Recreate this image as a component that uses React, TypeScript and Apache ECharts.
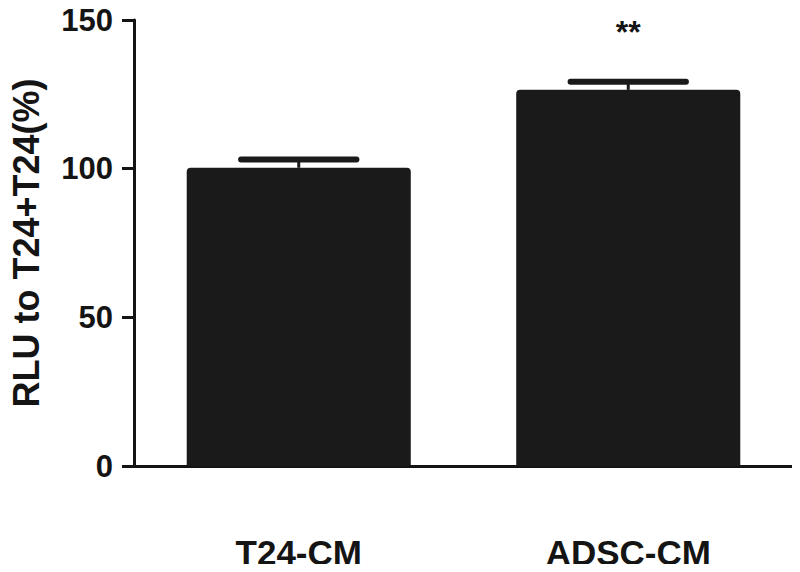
import React, { useEffect, useRef } from "react";
import * as echarts from "echarts";

const categories = ["T24-CM", "ADSC-CM"];
const means = [100.3, 126.5];
const errors = [2.8, 2.7];
const significance = ["", "**"];
const yTicks = { min: 0, max: 150, interval: 50 };
const yTitle = "RLU to T24+T24(%)";

export default function App() {
  const ref = useRef<HTMLDivElement>(null);
  useEffect(() => {
    if (!ref.current) return;
    const chart = echarts.init(ref.current, null, { renderer: "svg" });
    const font = "'Liberation Sans', Arial, sans-serif";
    const ink = "#141414";
    chart.setOption({
      animation: false,
      backgroundColor: "#ffffff",
      grid: { left: 124, right: 7, top: 20, bottom: 106, containLabel: false },
      xAxis: {
        type: "category",
        data: categories,
        boundaryGap: true,
        axisLine: { lineStyle: { color: ink, width: 3 } },
        axisTick: { alignWithLabel: true, length: 14, lineStyle: { color: ink, width: 3 } },
        axisLabel: {
          margin: 69,
          color: ink,
          fontFamily: font,
          fontWeight: "bold",
          fontSize: 35,
        },
        splitLine: { show: false },
      },
      yAxis: {
        type: "value",
        min: yTicks.min,
        max: yTicks.max,
        interval: yTicks.interval,
        name: yTitle,
        nameLocation: "middle",
        nameGap: 90,
        nameTextStyle: { color: ink, fontFamily: font, fontWeight: "bold", fontSize: 36 },
        axisLine: { show: true, lineStyle: { color: ink, width: 3 } },
        axisTick: { show: true, length: 12, lineStyle: { color: ink, width: 3 } },
        axisLabel: { margin: 21, color: ink, fontFamily: font, fontWeight: "bold", fontSize: 31 },
        splitLine: { show: false },
      },
      series: [
        {
          type: "bar",
          data: means,
          barWidth: "68%",
          itemStyle: { color: "#1a1a1a", borderRadius: [4, 4, 0, 0] },
          z: 2,
        },
        {
          type: "custom",
          data: means.map((m, i) => [i, m, errors[i]]),
          z: 3,
          renderItem: (params: any, api: any) => {
            const i = api.value(0);
            const m = api.value(1);
            const e = api.value(2);
            const top = api.coord([i, m + e]);
            const base = api.coord([i, m]);
            const half = api.size([1, 0])[0] * 0.175;
            const children: any[] = [
              {
                type: "line",
                shape: { x1: top[0], y1: top[1], x2: base[0], y2: base[1] },
                style: { stroke: "#1a1a1a", lineWidth: 3 },
              },
              {
                type: "line",
                shape: { x1: top[0] - half, y1: top[1], x2: top[0] + half, y2: top[1] },
                style: { stroke: "#1a1a1a", lineWidth: 6, lineCap: "round" },
              },
            ];
            const sig = significance[params.dataIndex];
            if (sig) {
              const p = api.coord([i, yTicks.max]);
              children.push({
                type: "text",
                x: p[0],
                y: p[1] - 4,
                style: {
                  text: sig,
                  fill: ink,
                  font: `bold 32px ${font}`,
                  align: "center",
                  verticalAlign: "top",
                },
              });
            }
            return { type: "group", children };
          },
        },
      ],
    });
    return () => chart.dispose();
  }, []);
  return <div ref={ref} style={{ width: 800, height: 572, margin: -8 }} />;
}
